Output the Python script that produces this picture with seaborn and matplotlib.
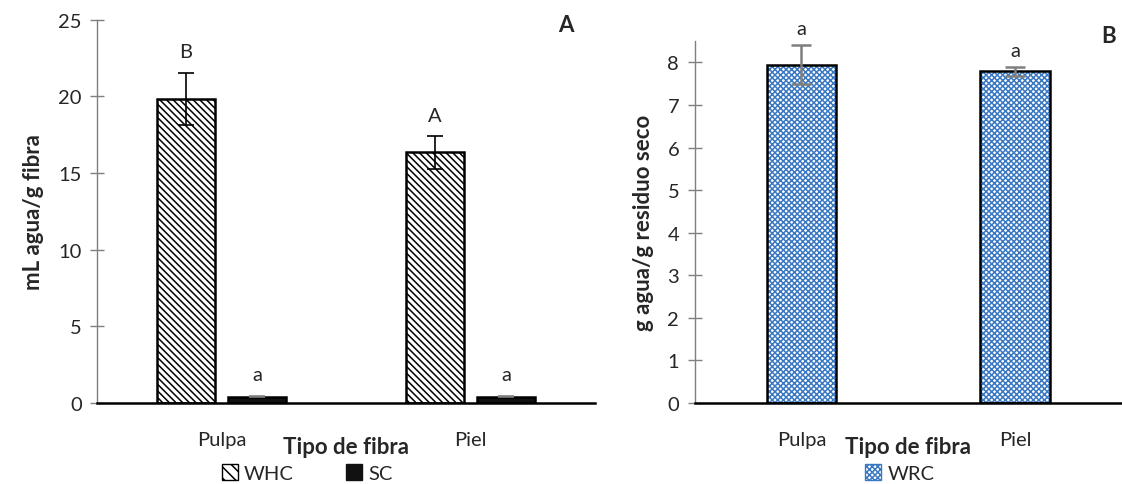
import matplotlib
matplotlib.use("Agg")
import matplotlib.pyplot as plt
from matplotlib.patches import Rectangle, Patch
import seaborn as sns
import pandas as pd

# ---- data ----
fibras = ["Pulpa", "Piel"]

whc_mean = [19.85, 16.35]
whc_err = [1.70, 1.05]
sc_mean = [0.42, 0.42]
sc_err = [0.06, 0.06]
letras_whc = ["B", "A"]
letras_sc = ["a", "a"]

wrc_mean = [7.95, 7.79]
wrc_err = [0.45, 0.10]
letras_wrc = ["a", "a"]

sns.set_theme(style="white")
plt.rcParams["font.family"] = ["Lato", "DejaVu Sans"]
plt.rcParams["hatch.linewidth"] = 1.1

fig = plt.figure(figsize=(11.22, 4.85), dpi=100)
axA = fig.add_axes([0.0865, 0.167, 0.444, 0.790])
axB = fig.add_axes([0.619, 0.167, 0.381, 0.746])

TICK_FS = 14.5
LABEL_FS = 16

WHC_HATCH = "\\\\\\\\\\"
WRC_HATCH = "xxxxxx"
BLUE = "#3a78c2"


def style_axis(ax, ymax, yticks):
    ax.set_xlim(-0.5, 1.5)
    ax.set_ylim(0, ymax)
    ax.set_yticks(yticks)
    for s in ["top", "right"]:
        ax.spines[s].set_visible(False)
    ax.spines["left"].set_color("#7f7f7f")
    ax.spines["left"].set_linewidth(1.0)
    ax.spines["bottom"].set_color("black")
    ax.spines["bottom"].set_linewidth(1.8)
    ax.tick_params(axis="y", direction="inout", length=10, width=1.0,
                   color="#7f7f7f", labelsize=TICK_FS, pad=6, left=True)
    ax.tick_params(axis="x", length=0, labelsize=TICK_FS, pad=20)
    ax.set_xlabel("Tipo de fibra", fontsize=LABEL_FS, fontweight="bold")


# ---- panel A: WHC and SC ----
dfA = pd.DataFrame({
    "Tipo de fibra": fibras * 2,
    "Prueba": ["WHC"] * 2 + ["SC"] * 2,
    "valor": whc_mean + sc_mean,
})
sns.barplot(data=dfA, x="Tipo de fibra", y="valor", hue="Prueba",
            order=fibras, hue_order=["WHC", "SC"], errorbar=None,
            width=0.57, gap=0.19, legend=False, ax=axA)

barsA = list(axA.patches)[:4]
errA = whc_err + sc_err
letA = letras_whc + letras_sc
valA = whc_mean + sc_mean
for i, p in enumerate(barsA):
    if i < 2:
        p.set_facecolor("white")
        p.set_hatch(WHC_HATCH)
        p.set_edgecolor("black")
        p.set_linewidth(0)
    else:
        p.set_facecolor("#111111")
        p.set_edgecolor("#111111")
        p.set_linewidth(0)
    axA.add_patch(Rectangle(p.get_xy(), p.get_width(), p.get_height(),
                            fill=False, edgecolor="black", linewidth=1.8, zorder=3))
    cx = p.get_x() + p.get_width() / 2
    axA.errorbar(cx, valA[i], yerr=errA[i], fmt="none",
                 ecolor="black" if i < 2 else "#7f7f7f",
                 elinewidth=1.2, capsize=6, capthick=1.2, zorder=4)
    axA.text(cx, valA[i] + errA[i] + 0.8, letA[i], ha="center", va="bottom",
             fontsize=TICK_FS)

style_axis(axA, 25, [0, 5, 10, 15, 20, 25])
axA.set_ylabel("mL agua/g fibra", fontsize=LABEL_FS, fontweight="bold", labelpad=10)
axA.xaxis.set_label_coords(0.5, -0.085)
axA.text(0.925, 1.015, "A", transform=axA.transAxes, fontsize=16,
         fontweight="bold", ha="left", va="top")

# ---- panel B: WRC ----
dfB = pd.DataFrame({"Tipo de fibra": fibras, "Prueba": ["WRC"] * 2, "valor": wrc_mean})
sns.barplot(data=dfB, x="Tipo de fibra", y="valor", hue="Prueba",
            order=fibras, errorbar=None, width=0.325, legend=False, ax=axB)

for i, p in enumerate(list(axB.patches)[:2]):
    p.set_facecolor("white")
    p.set_hatch(WRC_HATCH)
    p.set_edgecolor(BLUE)
    p.set_linewidth(0)
    axB.add_patch(Rectangle(p.get_xy(), p.get_width(), p.get_height(),
                            fill=False, edgecolor="black", linewidth=1.8, zorder=3))
    cx = p.get_x() + p.get_width() / 2
    axB.errorbar(cx, wrc_mean[i], yerr=wrc_err[i], fmt="none", ecolor="#7f7f7f",
                 elinewidth=1.8, capsize=7, capthick=1.8, zorder=4)
    axB.text(cx, wrc_mean[i] + wrc_err[i] + 0.2, letras_wrc[i], ha="center",
             va="bottom", fontsize=TICK_FS)

style_axis(axB, 8.5, list(range(0, 9)))
axB.set_ylabel("g agua/g residuo seco", fontsize=LABEL_FS, fontweight="bold", labelpad=10)
axB.xaxis.set_label_coords(0.5, -0.09)
axB.text(0.985, 1.045, "B", transform=axB.transAxes, fontsize=16,
         fontweight="bold", ha="right", va="top")

# ---- legends ----
hWHC = Patch(facecolor="white", edgecolor="black", hatch="\\\\\\", linewidth=1.0)
hSC = Patch(facecolor="#111111", edgecolor="#111111", linewidth=1.0)
fig.legend(handles=[hWHC, hSC], labels=["WHC", "SC"], loc="center",
           bbox_to_anchor=(0.274, 0.022), ncol=2, frameon=False, fontsize=TICK_FS,
           handlelength=0.8, handleheight=0.8, handletextpad=0.3, columnspacing=2.6,
           borderpad=0)
hWRC = Patch(facecolor="white", edgecolor=BLUE, hatch=WRC_HATCH, linewidth=1.0)
fig.legend(handles=[hWRC], labels=["WRC"], loc="center",
           bbox_to_anchor=(0.802, 0.022), frameon=False, fontsize=TICK_FS,
           handlelength=0.8, handleheight=0.8, handletextpad=0.3, borderpad=0)

fig.savefig("out.png", dpi=100, facecolor="white")
